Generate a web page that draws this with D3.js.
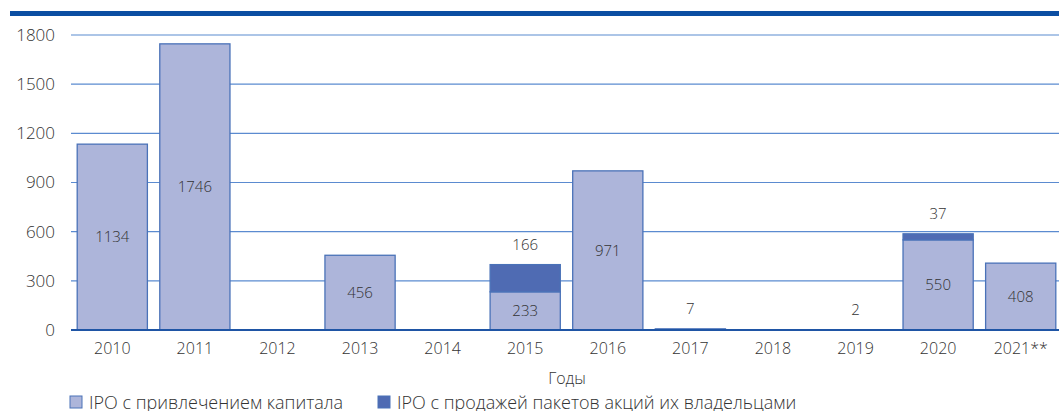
<!DOCTYPE html>
<html>
<head>
<meta charset="utf-8">
<script src="https://cdn.jsdelivr.net/npm/d3@7"></script>
<style>
  body { margin: 0; background: #fff; }
  svg text { font-family: "Open Sans", "Noto Sans", sans-serif; font-weight: 300; fill: #333; }
</style>
</head>
<body>
<div id="chart"></div>
<script>
var years = ["2010", "2011", "2012", "2013", "2014", "2015", "2016", "2017", "2018", "2019", "2020", "2021**"];
var capitalValues = [1134, 1746, 0, 456, 0, 233, 971, 0, 0, 0, 550, 408];
var ownerValues = [0, 0, 0, 0, 0, 166, 0, 7, 0, 2, 37, 0];
var yTicks = [0, 300, 600, 900, 1200, 1500, 1800];
var seriesNames = ["IPO с привлечением капитала", "IPO с продажей пакетов акций их владельцами"];

var svgWidth = 1059;
var svgHeight = 411;

var margin = { top: 35, right: -3, bottom: 81, left: 71 };
var width = svgWidth - margin.left - margin.right;
var height = svgHeight - margin.top - margin.bottom;

var lightFill = "#adb5da";
var lightStroke = "#4a72b8";
var darkFill = "#4f6bb3";
var gridColor = "#5b8bd0";

var svg = d3.select("#chart")
  .append("svg")
  .attr("width", svgWidth)
  .attr("height", svgHeight);

// top band
svg.append("rect")
  .attr("x", 10)
  .attr("y", 11)
  .attr("width", svgWidth - 10)
  .attr("height", 5)
  .attr("fill", "#0b4ea2");

var chartGroup = svg.append("g")
  .attr("transform", `translate(${margin.left}, ${margin.top})`);

var xScale = d3.scaleBand()
  .domain(years)
  .range([0, width])
  .paddingInner(0.15)
  .paddingOuter(0.075);

var yScale = d3.scaleLinear()
  .domain([0, 1800])
  .range([height, 0]);

// grid lines
chartGroup.append("g")
  .selectAll("line")
  .data(yTicks.filter(d => d > 0))
  .enter()
  .append("line")
  .attr("x1", 0)
  .attr("x2", width)
  .attr("y1", d => yScale(d))
  .attr("y2", d => yScale(d))
  .attr("stroke", gridColor)
  .attr("stroke-width", 1.2);

// y axis labels
var leftAxis = d3.axisLeft(yScale)
  .tickValues(yTicks)
  .tickFormat(d3.format("d"))
  .tickSize(0)
  .tickPadding(16);
var yAxis = chartGroup.append("g").call(leftAxis);
yAxis.select(".domain").remove();
yAxis.selectAll("text").style("font-size", "17px");

var stacked = years.map(function(y, i) {
  return { year: y, capital: capitalValues[i], owner: ownerValues[i] };
});

// capital bars
chartGroup.selectAll(".capBar")
  .data(stacked.filter(d => d.capital > 0))
  .enter()
  .append("rect")
  .attr("x", d => xScale(d.year))
  .attr("y", d => yScale(d.capital))
  .attr("width", xScale.bandwidth())
  .attr("height", d => height - yScale(d.capital))
  .attr("fill", lightFill)
  .attr("stroke", lightStroke)
  .attr("stroke-width", 1.3);

// owner bars
chartGroup.selectAll(".ownBar")
  .data(stacked.filter(d => d.owner > 0))
  .enter()
  .append("rect")
  .attr("x", d => xScale(d.year))
  .attr("y", d => yScale(d.capital + d.owner))
  .attr("width", xScale.bandwidth())
  .attr("height", d => yScale(d.capital) - yScale(d.capital + d.owner))
  .attr("fill", darkFill)
  .attr("stroke", lightStroke)
  .attr("stroke-width", 1.3);

// baseline
chartGroup.append("line")
  .attr("x1", 0)
  .attr("x2", width)
  .attr("y1", height)
  .attr("y2", height)
  .attr("stroke", "#1f55a5")
  .attr("stroke-width", 2);

// value labels
chartGroup.selectAll(".capLabel")
  .data(stacked.filter(d => d.capital > 0))
  .enter()
  .append("text")
  .attr("x", d => xScale(d.year) + xScale.bandwidth() / 2)
  .attr("y", d => yScale(d.capital / 2))
  .attr("dy", "0.35em")
  .attr("text-anchor", "middle")
  .style("font-size", "15px")
  .text(d => d.capital);

chartGroup.selectAll(".ownLabel")
  .data(stacked.filter(d => d.owner > 0))
  .enter()
  .append("text")
  .attr("x", d => xScale(d.year) + xScale.bandwidth() / 2)
  .attr("y", d => yScale(d.capital + d.owner) - 15)
  .attr("text-anchor", "middle")
  .style("font-size", "15px")
  .text(d => d.owner);

// x axis labels
var bottomAxis = d3.axisBottom(xScale).tickSize(0).tickPadding(13);
var xAxis = chartGroup.append("g")
  .attr("transform", `translate(0, ${height})`)
  .call(bottomAxis);
xAxis.select(".domain").remove();
xAxis.selectAll("text").style("font-size", "16px");

// axis title
svg.append("text")
  .attr("x", 567)
  .attr("y", 384)
  .attr("text-anchor", "middle")
  .style("font-size", "16px")
  .text("Годы");

// legend
var legendX = [70, 378];
var legendColors = [lightFill, darkFill];
var legend = svg.selectAll(".legend")
  .data(seriesNames)
  .enter()
  .append("g")
  .attr("transform", (d, i) => `translate(${legendX[i]}, 396)`);

legend.append("rect")
  .attr("width", 12)
  .attr("height", 12)
  .attr("fill", (d, i) => legendColors[i])
  .attr("stroke", lightStroke)
  .attr("stroke-width", 1);

legend.append("text")
  .attr("x", 19)
  .attr("y", 13)
  .style("font-size", "18px")
  .text(d => d);
</script>
</body>
</html>
